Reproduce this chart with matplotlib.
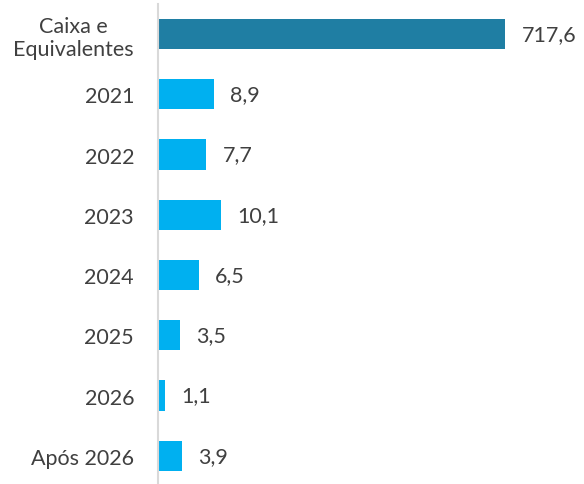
import matplotlib.pyplot as plt

plt.rcParams['font.family'] = ['Lato', 'DejaVu Sans']

categories = ["Caixa e\nEquivalentes", "2021", "2022", "2023", "2024", "2025", "2026", "Após 2026"]
values = [717.6, 8.9, 7.7, 10.1, 6.5, 3.5, 1.1, 3.9]
labels = ["717,6", "8,9", "7,7", "10,1", "6,5", "3,5", "1,1", "3,9"]
colors = ["#1F7EA3"] + ["#00B0F0"] * 7

x_max = 55.3  # first bar is cut at the axis end

fig = plt.figure(figsize=(5.84, 4.85), dpi=100)
ax = fig.add_axes([0.27, -0.004, 0.595, 0.994])

y = list(range(len(categories)))
ax.barh(y, values, height=0.5, color=colors)
ax.set_xlim(0, x_max)
ax.set_ylim(len(categories) - 0.5, -0.5)

for yi, v, lab in zip(y, values, labels):
    ax.text(min(v, x_max) + 2.6, yi, lab, va='center', ha='left',
            fontsize=15.5, color='#404040', clip_on=False)

ax.set_yticks(y)
ax.set_yticklabels(categories, fontsize=15.5, color='#404040', multialignment='center')
ax.tick_params(axis='y', length=0, pad=17)
ax.set_xticks([])

for s in ['top', 'right', 'bottom']:
    ax.spines[s].set_visible(False)
ax.spines['left'].set_color('#D9D9D9')
ax.spines['left'].set_linewidth(1.5)

fig.savefig('out.png', dpi=100)
